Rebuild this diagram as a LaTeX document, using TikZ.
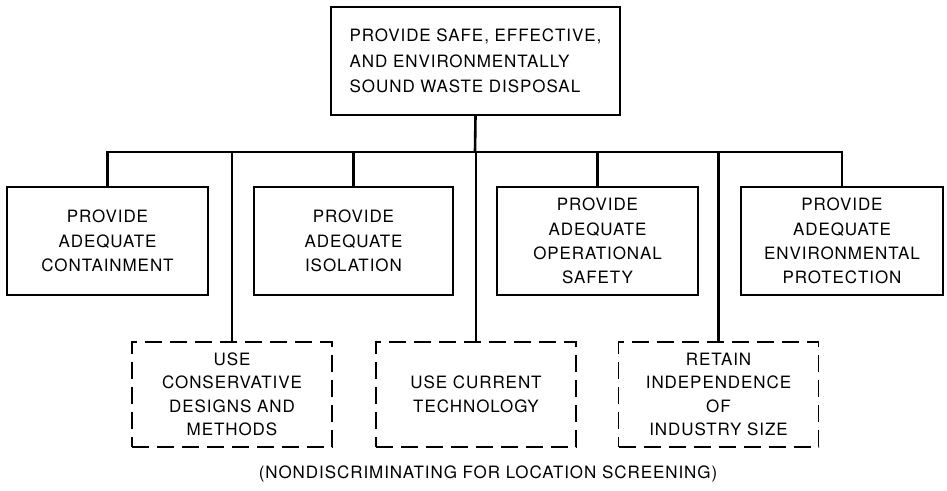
\documentclass[tikz,border=0pt]{standalone}
\usepackage{fontspec}
\setmainfont{TeX Gyre Heros}[LetterSpace=5.5]
\begin{document}
\begin{tikzpicture}[x=1pt,y=-1pt,
  box/.style={draw,line width=1.6pt,minimum height=108pt,inner sep=0pt,align=center,
    font=\fontsize{17}{24.3}\selectfont},
  dbox/.style={draw,line width=1.6pt,dash pattern=on 17pt off 8pt,minimum height=105pt,minimum width=200pt,inner sep=0pt,align=center,
    font=\fontsize{17}{23.5}\selectfont},
  conn/.style={line width=2.6pt}]
\useasboundingbox (0,0) rectangle (947,490);
\node[box,minimum width=289pt,align=left,font=\fontsize{17}{25.5}\selectfont] (top) at (475.5,61) {PROVIDE SAFE, EFFECTIVE,\\ AND ENVIRONMENTALLY\\SOUND WASTE DISPOSAL};
\node[box,minimum width=201pt] (b1) at (107.5,241) {PROVIDE\\ADEQUATE\\CONTAINMENT};
\node[box,minimum width=199pt] (b2) at (353.5,241) {PROVIDE\\ADEQUATE\\ISOLATION};
\node[box,minimum width=201pt] (b3) at (597.5,241) {PROVIDE\\ADEQUATE\\OPERATIONAL\\SAFETY};
\node[box,minimum width=202pt] (b4) at (842,241) {PROVIDE\\ADEQUATE\\ENVIRONMENTAL\\PROTECTION};
\node[dbox] (dA) at (232,394.5) {USE\\CONSERVATIVE\\DESIGNS AND\\METHODS};
\node[dbox] (dB) at (476,394.5) {USE CURRENT\\TECHNOLOGY};
\node[dbox] (dC) at (718.5,394.5) {RETAIN\\INDEPENDENCE\\OF\\INDUSTRY SIZE};
\node[font=\fontsize{17}{21}\selectfont] (cap) at (488,473.5) {(NONDISCRIMINATING FOR LOCATION SCREENING)};
\coordinate (bus) at (475,152);
\draw[conn] (top.south) -- (bus);
\draw[conn] (b1.north) -- (b1.north |- bus) -- (b4.north |- bus) -- (b4.north);
\draw[conn] (b2.north) -- (b2.north |- bus);
\draw[conn] (b3.north) -- (b3.north |- bus);
\draw[conn] (dA.north) -- (dA.north |- bus);
\draw[conn] (dB.north) -- (dB.north |- bus);
\draw[conn] (dC.north) -- (dC.north |- bus);
\end{tikzpicture}
\end{document}
